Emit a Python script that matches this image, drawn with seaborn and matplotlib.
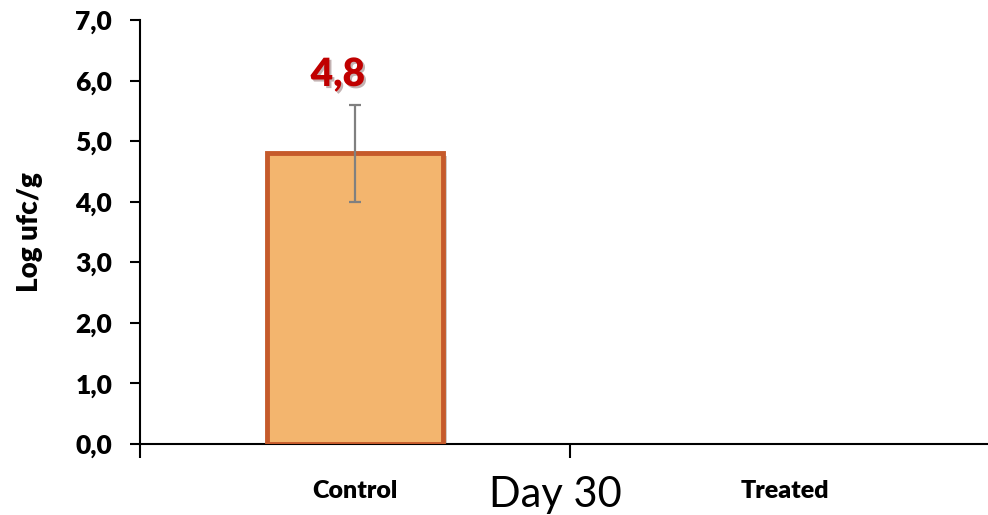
import matplotlib
matplotlib.use("Agg")
import matplotlib.pyplot as plt
import matplotlib.patheffects as pe
import seaborn as sns
import pandas as pd

# ---- data ----
groups = ["Control", "Treated"]
values = [4.8, 0.0]
errors = [0.8, 0.0]
value_labels = ["4,8", ""]
y_ticks = [0, 1, 2, 3, 4, 5, 6, 7]
y_tick_labels = ["0,0", "1,0", "2,0", "3,0", "4,0", "5,0", "6,0", "7,0"]
x_title = "Day 30"
y_title = "Log ufc/g"

df = pd.DataFrame({"group": groups, "value": values})

sns.set_theme(style="white")
plt.rcParams["font.family"] = ["Lato", "DejaVu Sans"]
plt.rcParams.update({"text.color": "black", "axes.labelcolor": "black",
                     "xtick.color": "black", "ytick.color": "black"})
W = "heavy"

fig = plt.figure(figsize=(9.88, 5.15), dpi=100)
ax = fig.add_axes([140 / 988, 1 - 444 / 515, 848 / 988, 424 / 515])

sns.barplot(data=df, x="group", y="value", ax=ax, width=0.41, saturation=1,
            color="#F3B56E", edgecolor="#C55A2B", linewidth=3.5, errorbar=None,
            zorder=3)
for p in ax.patches:
    if p.get_height() == 0:
        p.set_visible(False)
    else:
        p.set_path_effects([pe.SimplePatchShadow(offset=(3, -2), alpha=0.25),
                            pe.Normal()])

xs = list(range(len(groups)))
for x, v, e, lab in zip(xs, values, errors, value_labels):
    if e > 0:
        ax.errorbar(x, v, yerr=e, fmt="none", ecolor="#808080",
                    elinewidth=1.6, capsize=4, capthick=1.6, zorder=4)
    if lab:
        ax.text(x - 0.04, v + e + 0.5, lab, ha="center", va="center",
                fontsize=28, fontweight=W, color="#C00000",
                path_effects=[pe.SimplePatchShadow(offset=(1.5, -1.5), alpha=0.3),
                              pe.Normal()])

ax.set_ylim(0, 7)
ax.set_xlim(-0.5, 1.472)
ax.set_yticks(y_ticks)
ax.set_yticklabels(y_tick_labels, fontsize=19, fontweight=W)

ax.set_xticks([-0.5, 0.5])
ax.set_xticklabels(["", ""])
ax.set_xticks(xs, minor=True)
ax.set_xticklabels(groups, minor=True, fontsize=18, fontweight=W)
ax.tick_params(axis="x", which="major", direction="out", length=10,
               width=1.5, color="black", bottom=True)
ax.tick_params(axis="x", which="minor", length=0, pad=26, bottom=True)
ax.tick_params(axis="y", direction="out", length=7, width=1.5,
               color="black", pad=13, left=True)

for s in ["top", "right"]:
    ax.spines[s].set_visible(False)
for s in ["left", "bottom"]:
    ax.spines[s].set_color("black")
    ax.spines[s].set_linewidth(1.5)

ax.set_xlabel(x_title, fontsize=30, va="center")
ax.xaxis.set_label_coords(0.49, -0.12)
ax.set_ylabel(y_title, fontsize=20, fontweight=W, va="center")
ax.yaxis.set_label_coords(-0.13, 0.5)

fig.savefig("out.png", dpi=100)
